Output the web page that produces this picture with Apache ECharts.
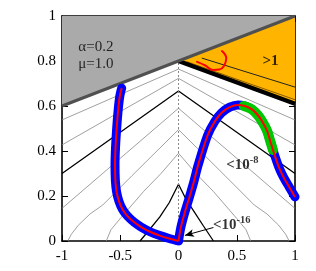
<!DOCTYPE html>
<html><head><meta charset="utf-8">
<script src="https://cdn.jsdelivr.net/npm/echarts@6/dist/echarts.min.js"></script>
<style>html,body{margin:0;padding:0;background:#fff}#c{width:316px;height:271px}</style>
</head><body><div id="c"></div>
<script>
// ---- data ----
const xTickValues = [-1, -0.5, 0, 0.5, 1];
const yTickValues = [0, 0.2, 0.4, 0.6, 0.8, 1];
// gray (unstable) region boundary and orange (>1) region boundary
const grayEdge = [[-1, 0.6], [1, 1.0]];
const orangeEdge = [[0, 0.8], [1, 0.61]];
const orangeThinLine = [[0.2, 0.813], [1, 0.684]];
const orangeInnerLine = [[0.07, 0.797], [1, 0.628]];
// contour levels (gray thin / black)
const levelA = [[-1, 0.538], [0, 0.764], [1, 0.538]];
const levelB = [[-1, 0.427], [0, 0.723], [1, 0.427]];
const levelC = [[-1, 0.30], [0, 0.667], [1, 0.30]];
const levelD = [[-1, 0.145], [0, 0.59], [1, 0.145]];
const levelE = [[-0.95, 0], [-0.92, 0.03], [-0.86, 0.07], [-0.76, 0.12], [-0.65, 0.16], [-0.4, 0.29], [0, 0.495],
                [0.4, 0.29], [0.65, 0.16], [0.76, 0.12], [0.86, 0.07], [0.92, 0.03], [0.95, 0]];
const levelF = [[-0.62, 0], [-0.58, 0.05], [-0.5, 0.1], [-0.4, 0.16], [-0.3, 0.22], [-0.15, 0.3], [0, 0.39],
                [0.15, 0.3], [0.3, 0.22], [0.4, 0.16], [0.5, 0.1], [0.58, 0.05], [0.62, 0]];
const levelG = [[-0.33, 0], [-0.25, 0.05], [-0.16, 0.107], [-0.08, 0.17], [0, 0.252],
                [0.06, 0.19], [0.124, 0.138], [0.21, 0.07], [0.30, 0]];
const axisDotted = [[0, 0], [0, 0.8]];
// trajectory
const leftBranch = [[-0.488, 0.679], [-0.505, 0.64], [-0.52, 0.57], [-0.532, 0.49], [-0.541, 0.41], [-0.545, 0.34],
  [-0.542, 0.27], [-0.532, 0.22], [-0.51, 0.175], [-0.48, 0.14], [-0.44, 0.112], [-0.38, 0.083], [-0.32, 0.062],
  [-0.24, 0.04], [-0.16, 0.024], [-0.08, 0.011], [0, 0]];
const rightBranch = [[0, 0], [0.02, 0.06], [0.05, 0.12], [0.085, 0.18], [0.13, 0.26], [0.17, 0.34], [0.25, 0.47],
  [0.31, 0.53], [0.37, 0.57], [0.44, 0.595], [0.51, 0.605], [0.57, 0.60], [0.63, 0.585], [0.68, 0.56],
  [0.72, 0.53], [0.76, 0.49], [0.79, 0.44], [0.82, 0.39], [0.86, 0.33], [0.90, 0.285], [0.95, 0.24], [1.0, 0.196]];
const greenSegment = [[0.56, 0.60], [0.63, 0.585], [0.68, 0.56], [0.72, 0.53], [0.76, 0.49], [0.79, 0.44], [0.81, 0.405]];
const redHook = [[0.159, 0.796], [0.23, 0.78], [0.296, 0.76], [0.35, 0.762], [0.39, 0.778], [0.41, 0.813], [0.373, 0.844]];
// annotations
const paramText = ['α=0.2', 'μ=1.0'];
const arrowFrom = [0.30, 0.06], arrowTo = [0.055, 0.025];

// ---- chart ----
const serif = '"Liberation Serif", "DejaVu Serif", serif';
const chart = echarts.init(document.getElementById('c'), null, {renderer: 'canvas'});

function lineSeries(data, color, width, z, extra) {
  return Object.assign({
    type: 'line', data: data, showSymbol: false, symbol: 'none', silent: true, z: z,
    lineStyle: {color: color, width: width}, animation: false
  }, extra || {});
}
function textPoint(pos, formatter, rich, z) {
  return {
    type: 'scatter', data: [pos], symbolSize: 0, silent: true, z: z, animation: false,
    label: {show: true, position: 'right', distance: 0, formatter: formatter, rich: rich,
            fontFamily: serif, fontSize: 15, color: '#000'}
  };
}
const supRich = {
  a: {fontFamily: serif, fontSize: 15, fontWeight: 'bold', color: '#000', lineHeight: 18, verticalAlign: 'bottom'},
  b: {fontFamily: serif, fontSize: 10.5, fontWeight: 'bold', color: '#000', lineHeight: 18, verticalAlign: 'top', padding: [0, 0, 6, 0]}
};

const axisCommon = {
  type: 'value', min: -1, max: 1, interval: 0.5,
  axisLine: {show: true, onZero: false, lineStyle: {color: '#000', width: 1.6}},
  axisTick: {show: true, inside: true, length: 6, lineStyle: {color: '#000', width: 1}},
  splitLine: {show: false}
};

const option = {
  animation: false,
  backgroundColor: '#fff',
  grid: {left: 62, top: 16, width: 233, height: 225, containLabel: false},
  xAxis: [
    Object.assign({}, axisCommon, {position: 'bottom',
      axisLabel: {show: true, margin: 8, fontFamily: serif, fontSize: 15, color: '#000'}}),
    Object.assign({}, axisCommon, {position: 'top', axisLabel: {show: false}})
  ],
  yAxis: [
    Object.assign({}, axisCommon, {min: 0, max: 1, interval: 0.2, position: 'left',
      axisLabel: {show: true, margin: 6, fontFamily: serif, fontSize: 15, color: '#000'}}),
    Object.assign({}, axisCommon, {min: 0, max: 1, interval: 0.2, position: 'right', axisLabel: {show: false}})
  ],
  series: [
    lineSeries(levelA, '#888', 0.8, 1),
    lineSeries(levelB, '#888', 0.8, 1),
    lineSeries(levelC, '#000', 1.3, 1),
    lineSeries(levelD, '#888', 0.8, 1),
    lineSeries(levelE, '#888', 0.8, 1),
    lineSeries(levelF, '#888', 0.8, 1),
    lineSeries(levelG, '#000', 1.3, 1),
    lineSeries(axisDotted, '#888', 1, 1, {lineStyle: {color: '#888', width: 1, type: [2, 2]}}),
    lineSeries(orangeEdge, '#000', 0, 2, {areaStyle: {origin: 'end', color: '#ffb400', opacity: 1}}),
    lineSeries(orangeInnerLine, '#8a5a00', 1, 3),
    lineSeries(orangeThinLine, '#222', 1, 3),
    lineSeries(orangeEdge, '#000', 4.5, 3),
    lineSeries(grayEdge, '#505050', 3, 4, {areaStyle: {origin: 'end', color: '#aaaaaa', opacity: 1}}),
    lineSeries(leftBranch, '#0000ff', 9, 5, {smooth: 0.3, lineStyle: {color: '#0000ff', width: 9, cap: 'round', join: 'round'}}),
    lineSeries(rightBranch, '#0000ff', 9, 5, {smooth: 0.3, lineStyle: {color: '#0000ff', width: 9, cap: 'round', join: 'round'}}),
    lineSeries(greenSegment, '#00c800', 10, 6, {smooth: 0.3, lineStyle: {color: '#00c800', width: 10, cap: 'round', join: 'round'}}),
    lineSeries(leftBranch, '#ff0000', 2, 7, {smooth: 0.3, lineStyle: {color: '#ff0000', width: 2, join: 'round'}}),
    lineSeries(rightBranch, '#ff0000', 2, 7, {smooth: 0.3, lineStyle: {color: '#ff0000', width: 2, join: 'round'}}),
    lineSeries(redHook, '#ff0000', 2, 7, {smooth: 0.4, lineStyle: {color: '#ff0000', width: 2, cap: 'round'}}),
    textPoint([-0.86, 0.862], paramText[0], null, 8),
    textPoint([-0.86, 0.787], paramText[1], null, 8),
    textPoint([0.72, 0.804], '{a|>1}', supRich, 8),
    textPoint([0.41, 0.345], '{a|<10}{b|-8}', supRich, 8),
    Object.assign(textPoint([0.296, 0.078], '{a|<10}{b|-16}', supRich, 8), {
      markLine: {
        silent: true, animation: false, symbol: ['none', 'arrow'], symbolSize: [6, 9],
        label: {show: false},
        lineStyle: {color: '#000', width: 1, type: 'solid'},
        data: [[{coord: arrowFrom}, {coord: arrowTo}]]
      }
    })
  ]
};
chart.setOption(option);
</script>
</body></html>
